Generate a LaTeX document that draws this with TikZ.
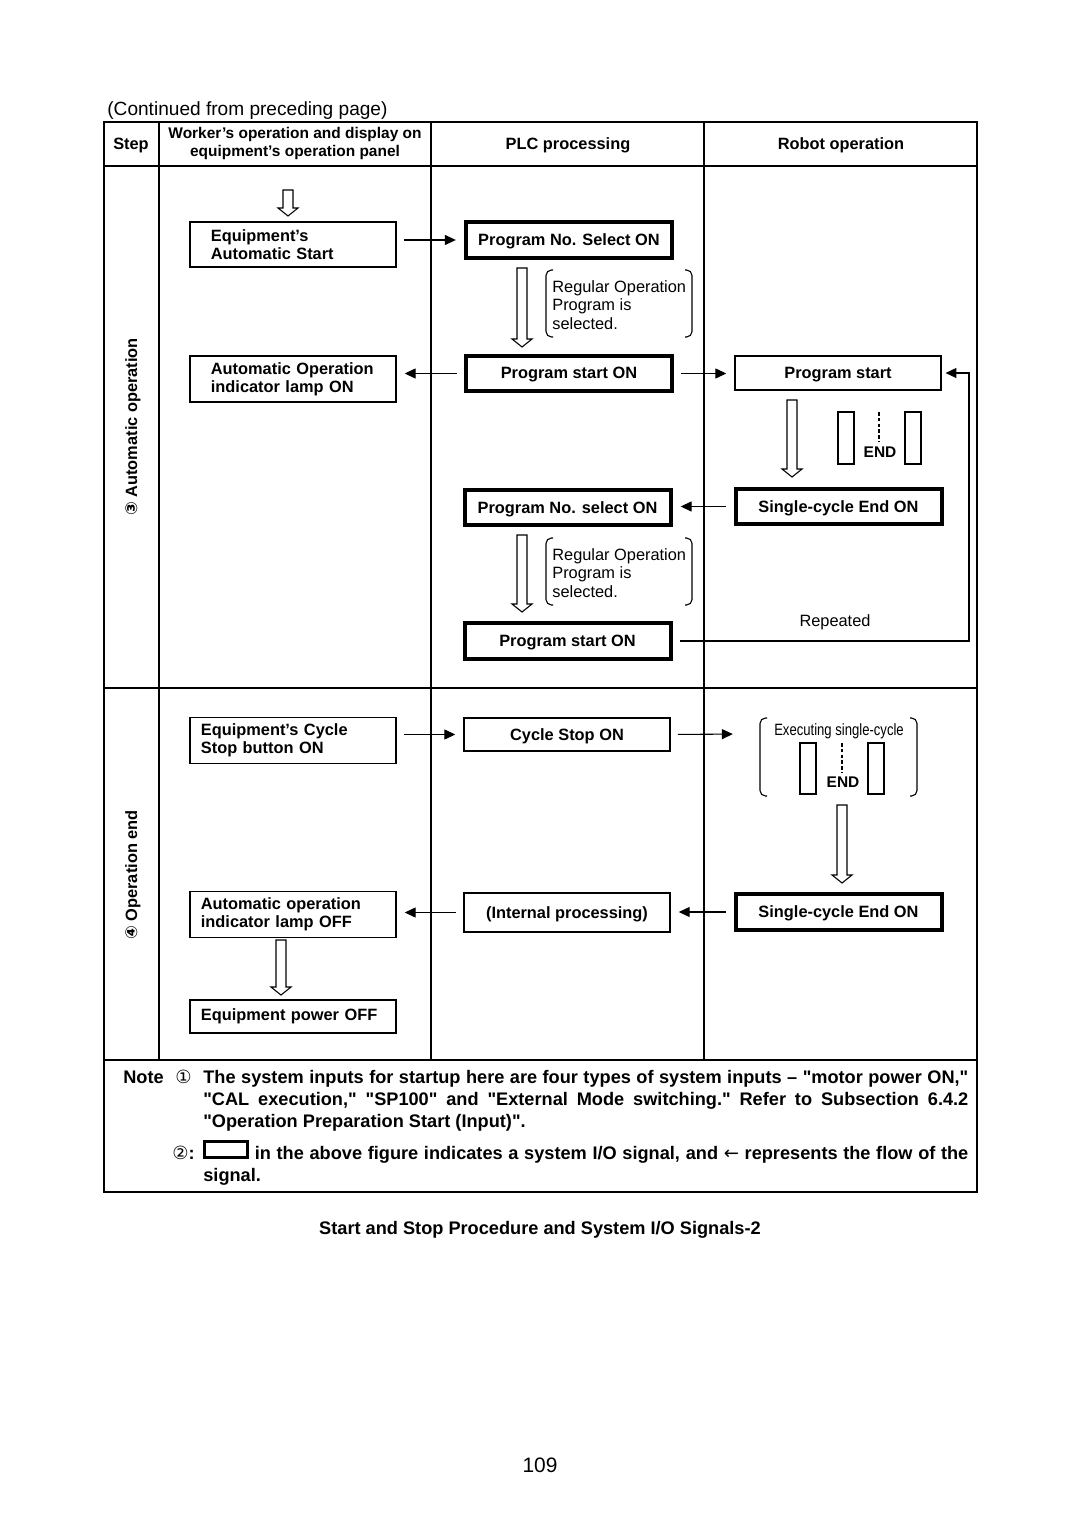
\documentclass[tikz,border=0pt]{standalone}
\usepackage{fontspec}
\usepackage{graphicx}
\setmainfont{Liberation Sans}
\newfontfamily\symfont{DejaVu Sans}
\usetikzlibrary{arrows.meta}
\newcommand{\qq}{\textquotedbl}
\newcommand{\fatarrow}[3]{\draw[line width=.6pt,fill=white] (#1-5,#2) -- (#1+5,#2) -- (#1+5,#3-8) -- (#1+10,#3-8) -- (#1,#3) -- (#1-10,#3-8) -- (#1-5,#3-8) -- cycle;}
\newcommand{\cyclemark}[5]{%
  \draw[line width=.6pt] (#1,#4) rectangle (#1+16,#5) (#2,#4) rectangle (#2+16,#5);
  \draw[line width=.6pt,dash pattern=on 2pt off 1.2pt] (#3,#4) -- (#3,#4+30);
  \node[font=\fontsize{8.5}{9}\selectfont\bfseries,inner sep=0pt] at (#3+1,#5-12) {END};}
\newcommand{\brackets}[4]{%
  \draw[line width=.6pt,rounded corners=3pt] (#1+7,#3) -- (#1,#3) -- (#1,#4) -- (#1+7,#4) (#2-7,#3) -- (#2,#3) -- (#2,#4) -- (#2-7,#4);}
\tikzset{
  sig/.style={-{Triangle[length=6pt,width=5.5pt]},line width=.6pt,shorten <=4pt,shorten >=4.5pt},
  boxfont/.style={font=\fontsize{9}{10}\selectfont\bfseries},
  panel/.style={draw,line width=.6pt,text width=101.3pt,inner xsep=6pt,align=left,boxfont},
  panelin/.style={panel,text width=90.3pt,inner xsep=11.5pt},
  plainbox/.style={draw,line width=.6pt,minimum width=113.3pt,boxfont,text depth=.3pt},
  sysio/.style={draw,line width=2.2pt,minimum width=113.3pt,minimum height=19.3pt,boxfont,text depth=.3pt},
  remark/.style={anchor=north west,align=left,inner sep=0pt,font=\fontsize{9}{10.2}\selectfont},
  notetext/.style={anchor=base west,font=\fontsize{10}{12.1}\selectfont\bfseries}
}
\begin{document}
\begin{tikzpicture}[x=.55pt,y=-.55pt]
\useasboundingbox (0,0) rectangle (1080,1528);
\node[anchor=base west,inner sep=0pt,font=\fontsize{10.5}{12}\selectfont] (title) at (107,116) {(Continued from preceding page)};
\draw[line width=.8pt] (104,122) rectangle (977,1192);
\draw[line width=.6pt] (104,166) -- (977,166) (104,688) -- (977,688) (104,1060) -- (977,1060)
  (159,122) -- (159,1060) (431,122) -- (431,1060) (704,122) -- (704,1060);
\node[boxfont] (hstep) at (131,145) {Step};
\node[align=center,font=\fontsize{8.5}{9.9}\selectfont\bfseries] (hwork) at (295,144) {Worker’s operation and display on\\equipment’s operation panel};
\node[boxfont] (hplc) at (568,145) {PLC processing};
\node[boxfont] (hrobot) at (841,145) {Robot operation};
\node[boxfont,rotate=90] (step3) at (133,427) {{\symfont ③} Automatic operation};
\node[boxfont,rotate=90] (step4) at (133,875) {{\symfont ④} Operation end};
% automatic operation
\fatarrow{288}{190}{216}
\node[panelin,minimum height=24.75pt] (eas) at (293,244.5) {Equipment’s\\Automatic Start};
\node[panelin,minimum height=25.3pt] (lampon) at (293,379) {Automatic Operation\\indicator lamp ON};
\node[sysio] (psel) at (569,240) {Program No. Select ON};
\fatarrow{522}{268}{347}
\brackets{546}{692}{270}{337}
\node[remark] (reg1) at (552,280) {Regular Operation\\Program is\\selected.};
\node[sysio] (pson) at (569,373.5) {Program start ON};
\node[plainbox,minimum height=18.7pt] (pstart) at (838,373) {Program start};
\fatarrow{792}{400}{477}
\cyclemark{838}{905}{879}{412}{464}
\node[sysio] (sce1) at (838.5,506.5) {Single-cycle End ON};
\node[sysio] (psel2) at (567.5,507.5) {Program No. select ON};
\fatarrow{522}{535}{612}
\brackets{546}{692}{538}{605}
\node[remark] (reg2) at (552,548) {Regular Operation\\Program is\\selected.};
\node[sysio] (pson2) at (567.5,641) {Program start ON};
\node[font=\fontsize{9}{10}\selectfont] (rep) at (835,622) {Repeated};
\coordinate (loop) at (969,373);
\draw[sig] (eas.east |- psel.west) -- (psel.west);
\draw[sig] (pson.west) -- (lampon.east |- pson.west);
\draw[sig] (pson.east) -- (pstart.west |- pson.east);
\draw[sig] (sce1.west) -- (psel2.east |- sce1.west);
\draw[sig,shorten >=2.2pt] (pson2.east) -| (loop) -- (pstart.east);
% operation end
\node[panel,minimum height=24.75pt] (csb) at (293,740.5) {Equipment’s Cycle\\Stop button ON};
\node[plainbox,minimum height=18.15pt] (cso) at (567,734.5) {Cycle Stop ON};
\coordinate (exec) at (741,734);
\brackets{760}{917}{718}{796}
\node[font=\fontsize{9}{10}\selectfont,inner sep=0pt] (exectext) at (839,731) {\scalebox{0.8}[1]{Executing single-cycle}};
\cyclemark{800}{868}{842}{743}{794}
\fatarrow{842}{805}{883}
\node[sysio,minimum height=20pt] (sce2) at (838.5,912) {Single-cycle End ON};
\node[plainbox,minimum height=21.45pt] (intp) at (567,912.5) {(Internal processing)};
\node[panel,minimum height=23.65pt] (lampoff) at (293,914.5) {Automatic operation\\indicator lamp OFF};
\fatarrow{281}{940}{995}
\node[panel,minimum height=18.15pt] (poff) at (293,1016.5) {Equipment power OFF};
\draw[sig] (csb.east |- cso.west) -- (cso.west);
\draw[sig] (cso.east) -- (exec);
\draw[sig] (sce2.west) -- (intp.east |- sce2.west);
\draw[sig] (intp.west) -- (lampoff.east |- intp.west);
% notes
\node[notetext,inner sep=0pt] (notehd) at (123,1083) {Note};
\node[notetext,inner sep=0pt,font=\fontsize{10}{12}\selectfont\symfont] (num1) at (175,1083) {①};
\node[notetext,inner sep=0pt,text width=420.75pt,align=justify] (note1) at (203,1083) {The system inputs for startup here are four types of system inputs – \qq motor power ON,\qq\linebreak \qq CAL execution,\qq\ \qq SP100\qq\ and \qq External Mode switching.\qq\ Refer to Subsection 6.4.2\linebreak \qq Operation Preparation Start (Input)\qq.};
\node[notetext,inner sep=0pt] (num2) at (172,1159) {{\symfont\mdseries ②}:};
\node[notetext,inner sep=0pt,text width=420.75pt,align=justify] (note2) at (203,1159) {{\setlength{\fboxrule}{1.6pt}\setlength{\fboxsep}{0pt}\raisebox{1.6pt}{\framebox{\rule{0pt}{7pt}\hspace{22pt}}}} in the above figure indicates a system I/O signal, and {\symfont\mdseries ←} represents the flow of the\linebreak signal.};
\node[boxfont,font=\fontsize{10}{12}\selectfont\bfseries] (caption) at (540,1230) {Start and Stop Procedure and System I/O Signals-2};
\node[font=\fontsize{11.5}{12}\selectfont] (page) at (540,1465) {109};
\end{tikzpicture}
\end{document}
